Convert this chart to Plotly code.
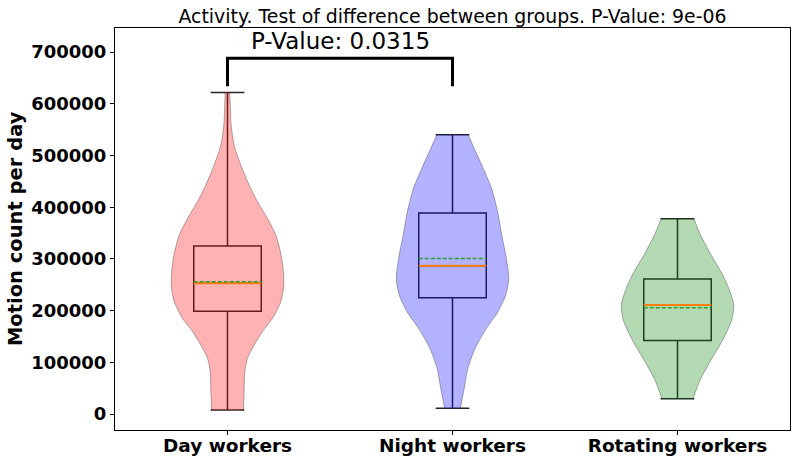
import plotly.graph_objects as go

# ---------------- data ----------------
categories = ["Day workers", "Night workers", "Rotating workers"]
positions = [1, 2, 3]

# box statistics (motion count per day)
box_min = [8000, 11000, 29700]
box_q1 = [199000, 225000, 142000]
box_median = [253000, 287000, 211000]
box_mean = [256000, 301000, 205600]
box_q3 = [325000, 389000, 261000]
box_max = [622000, 540000, 377800]

# violin profiles: value levels (top -> bottom) and relative density (max = 1)
day_levels = [622000, 597700, 559000, 520000, 481600, 443000, 410700, 378500, 346000,
              314000, 281800, 249500, 217300, 185000, 159300, 133500, 107700, 81900,
              43200, 8000]
day_density = [0.041, 0.05, 0.065, 0.118, 0.237, 0.385, 0.533, 0.71, 0.858,
               0.94, 0.988, 1.0, 0.947, 0.8, 0.62, 0.473, 0.355, 0.308,
               0.296, 0.284]

night_levels = [540000, 513900, 475000, 436500, 391400, 346000, 307500, 262400,
                230000, 197900, 165700, 127000, 88300, 49700, 11000]
night_density = [0.279, 0.385, 0.547, 0.694, 0.803, 0.876, 0.947, 1.0,
                 0.947, 0.809, 0.603, 0.403, 0.274, 0.209, 0.141]

rot_levels = [377800, 349500, 310800, 272000, 239800, 210800, 181800, 143100,
              104400, 65800, 29700]
rot_density = [0.292, 0.396, 0.58, 0.789, 0.923, 1.0, 0.964, 0.804,
               0.595, 0.402, 0.277]

violin_levels = [day_levels, night_levels, rot_levels]
violin_density = [day_density, night_density, rot_density]

yticks = [0, 100000, 200000, 300000, 400000, 500000, 600000, 700000]

title_text = "Activity. Test of difference between groups. P-Value: 9e-06"
pair_text = "P-Value: 0.0315"
bracket_low = [634000, 634000]
bracket_high = 688000
pair_text_y = 721000

# ---------------- style ----------------
fills = ["rgba(255,0,0,0.3)", "rgba(0,0,255,0.3)", "rgba(0,128,0,0.3)"]
half_width = 0.25
box_width = 0.3
FONT = "DejaVu Sans"
edge = dict(color="rgba(0,0,0,0.3)", width=1, shape="spline", smoothing=0.7)

fig = go.Figure()

for i, pos in enumerate(positions):
    lv = violin_levels[i]
    dn = violin_density[i]
    # left side
    fig.add_trace(go.Scatter(
        x=[pos - half_width * d for d in dn], y=lv, mode="lines",
        line=edge, hoverinfo="skip", showlegend=False))
    # right side, filled to the left side
    fig.add_trace(go.Scatter(
        x=[pos + half_width * d for d in dn], y=lv, mode="lines",
        fill="tonextx", fillcolor=fills[i],
        line=edge, hoverinfo="skip", showlegend=False))

for i, pos in enumerate(positions):
    fig.add_trace(go.Box(
        x=[pos], q1=[box_q1[i]], median=[box_median[i]], q3=[box_q3[i]],
        lowerfence=[box_min[i]], upperfence=[box_max[i]],
        width=box_width, whiskerwidth=0.5, boxpoints=False,
        fillcolor="rgba(0,0,0,0)", line=dict(color="#262626", width=1.5),
        showlegend=False))
    fig.add_trace(go.Scatter(
        x=[pos - box_width / 2, pos + box_width / 2], y=[box_median[i]] * 2,
        mode="lines", line=dict(color="#ff7f0e", width=2),
        showlegend=False, hoverinfo="skip"))
    fig.add_trace(go.Scatter(
        x=[pos - box_width / 2, pos + box_width / 2], y=[box_mean[i]] * 2,
        mode="lines", line=dict(color="#2ca02c", width=1.5, dash="4px,2px"),
        showlegend=False, hoverinfo="skip"))

# significance bracket between Day and Night workers
fig.add_trace(go.Scatter(
    x=[positions[0], positions[0], positions[1], positions[1]],
    y=[bracket_low[0], bracket_high, bracket_high, bracket_low[1]],
    mode="lines", line=dict(color="black", width=3),
    showlegend=False, hoverinfo="skip"))
fig.add_annotation(
    x=(positions[0] + positions[1]) / 2, y=pair_text_y, text=pair_text,
    showarrow=False, font=dict(family=FONT, size=23, color="black"),
    xanchor="center", yanchor="middle")

fig.add_annotation(
    xref="paper", yref="paper", x=-0.148, y=0.5, xanchor="center", yanchor="middle",
    text="Motion count per day", textangle=-90, showarrow=False,
    font=dict(family=FONT, size=19.5, color="black", weight="bold"))

fig.update_layout(
    width=800, height=463,
    margin=dict(l=115, r=10, t=28, b=33),
    paper_bgcolor="white", plot_bgcolor="white",
    boxmode="overlay",
    title=dict(text=title_text, x=0.5, xref="paper", xanchor="center",
               y=1 - 16.5 / 463, yref="container", yanchor="middle",
               automargin=False,
               font=dict(family=FONT, size=18.9, color="black")),
    xaxis=dict(range=[0.5, 3.5], tickvals=positions, ticktext=categories,
               automargin=False,
               showgrid=False, zeroline=False, showline=True, linecolor="black",
               linewidth=1, mirror=True, ticks="outside", ticklen=4, tickcolor="black",
               ticklabelstandoff=-5,
               tickfont=dict(family=FONT, size=18.5, color="black", weight="bold")),
    yaxis=dict(range=[-30900, 746600], tickvals=yticks, tickformat="d",
               automargin=False,
               showgrid=False, zeroline=False, showline=True, linecolor="black",
               linewidth=1, mirror=True, ticks="outside", ticklen=4, tickcolor="black",
               ticklabelstandoff=0,
               tickfont=dict(family=FONT, size=18, color="black", weight="bold")),
)

fig.write_html("out.html", config={"displayModeBar": False},
               post_script="document.body.style.margin='0';")
